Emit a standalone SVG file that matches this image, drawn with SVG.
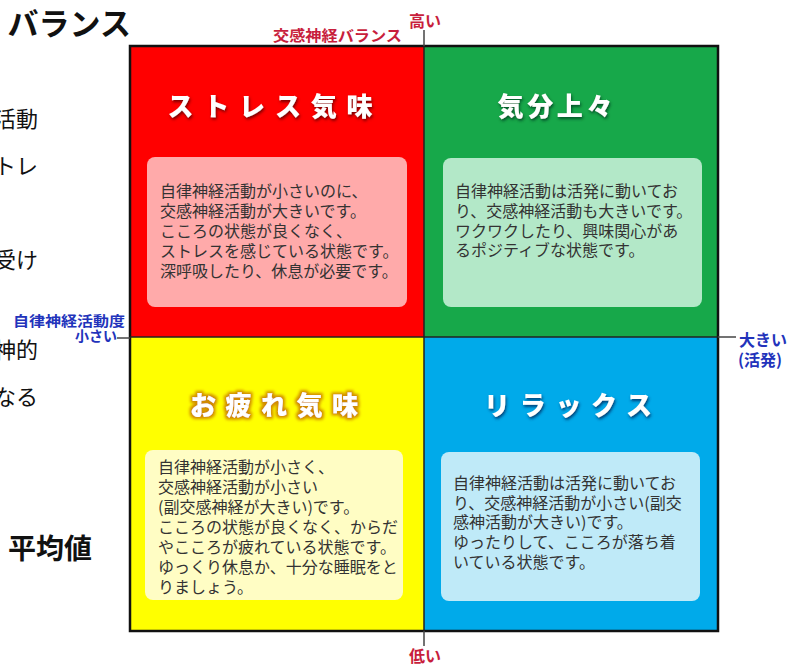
<svg xmlns="http://www.w3.org/2000/svg" width="792" height="664" viewBox="0 0 792 664">
<style>
.bg{font-family:"Noto Sans CJK JP","Noto Sans",sans-serif;fill:#111}
.ttl{font-family:"Noto Sans CJK JP",sans-serif;font-weight:900;font-size:26px;fill:#fff;text-anchor:middle}
.body{font-family:"Noto Sans CJK JP",sans-serif;font-size:16px;fill:#333}
.red{font-family:"Noto Sans CJK JP",sans-serif;font-weight:bold;fill:#c81e3c}
.blue{font-family:"Noto Sans CJK JP",sans-serif;font-weight:bold;fill:#2233bb}
.ax{stroke:#444;stroke-width:1.5;fill:none}
</style>
<defs>
<filter id="shR" x="-10%" y="-30%" width="120%" height="160%"><feDropShadow dx="1" dy="2" stdDeviation="1.5" flood-color="#660000" flood-opacity="0.9"/></filter>
<filter id="shG" x="-10%" y="-30%" width="120%" height="160%"><feDropShadow dx="1" dy="2" stdDeviation="1.5" flood-color="#004422" flood-opacity="0.9"/></filter>
<filter id="shB" x="-10%" y="-30%" width="120%" height="160%"><feDropShadow dx="1" dy="2" stdDeviation="1.5" flood-color="#003366" flood-opacity="0.9"/></filter>
<filter id="shY" x="-10%" y="-30%" width="120%" height="160%">
<feMorphology in="SourceAlpha" operator="dilate" radius="2" result="d"/>
<feGaussianBlur in="d" stdDeviation="1.5" result="b"/>
<feFlood flood-color="#d08a00"/>
<feComposite in2="b" operator="in" result="g"/>
<feMerge><feMergeNode in="g"/><feMergeNode in="SourceGraphic"/></feMerge>
</filter>
</defs>
<rect width="792" height="664" fill="#fff"/>
<g id="background-text" class="bg">
<text x="131" y="35" font-size="31" font-weight="bold" text-anchor="end">バランス</text>
<text x="38" y="127" font-size="22" text-anchor="end">活動</text>
<text x="38" y="174" font-size="22" text-anchor="end">トレ</text>
<text x="38" y="268" font-size="22" text-anchor="end">受け</text>
<text x="38" y="358" font-size="22" text-anchor="end">神的</text>
<text x="38" y="405" font-size="22" text-anchor="end">なる</text>
<text x="92" y="559" font-size="28" font-weight="bold" text-anchor="end">平均値</text>
</g>
<g id="q-stress">
<rect x="130" y="46" width="294" height="291" fill="#ff0000"/>
<text class="ttl" x="270" y="116" textLength="205" lengthAdjust="spacing" filter="url(#shR)">ストレス気味</text>
<rect x="147" y="157" width="260" height="150" rx="8" fill="#ffaaaa"/>
<text class="body" x="160" y="197">自律神経活動が小さいのに、</text>
<text class="body" x="160" y="217">交感神経活動が大きいです。</text>
<text class="body" x="160" y="237">こころの状態が良くなく、</text>
<text class="body" x="160" y="257">ストレスを感じている状態です。</text>
<text class="body" x="160" y="277">深呼吸したり、休息が必要です。</text>
</g>
<g id="q-happy">
<rect x="424" y="46" width="294" height="291" fill="#17a84a"/>
<text class="ttl" x="555" y="116" textLength="115" lengthAdjust="spacing" filter="url(#shG)">気分上々</text>
<rect x="443" y="158" width="259" height="149" rx="8" fill="#b3e8c8"/>
<text class="body" x="455" y="197">自律神経活動は活発に動いてお</text>
<text class="body" x="455" y="217">り、交感神経活動も大きいです。</text>
<text class="body" x="455" y="237">ワクワクしたり、興味関心があ</text>
<text class="body" x="455" y="256">るポジティブな状態です。</text>
</g>
<g id="q-tired">
<rect x="130" y="337" width="294" height="294" fill="#ffff00"/>
<text class="ttl" x="274" y="415" textLength="168" lengthAdjust="spacing" filter="url(#shY)">お疲れ気味</text>
<rect x="145" y="450" width="258" height="150" rx="8" fill="#fffdc4"/>
<text class="body" x="158" y="473">自律神経活動が小さく、</text>
<text class="body" x="158" y="493">交感神経活動が小さい</text>
<text class="body" x="158" y="513">(副交感神経が大きい)です。</text>
<text class="body" x="158" y="533">こころの状態が良くなく、からだ</text>
<text class="body" x="158" y="553">やこころが疲れている状態です。</text>
<text class="body" x="158" y="573">ゆっくり休息か、十分な睡眠をと</text>
<text class="body" x="158" y="593">りましょう。</text>
</g>
<g id="q-relax">
<rect x="424" y="337" width="294" height="294" fill="#00aaea"/>
<text class="ttl" x="568" y="415" textLength="168" lengthAdjust="spacing" filter="url(#shB)">リラックス</text>
<rect x="441" y="452" width="259" height="149" rx="8" fill="#bfeaf8"/>
<text class="body" x="453" y="489">自律神経活動は活発に動いてお</text>
<text class="body" x="453" y="509">り、交感神経活動が小さい(副交</text>
<text class="body" x="453" y="528">感神活動が大きい)です。</text>
<text class="body" x="453" y="548">ゆったりして、こころが落ち着</text>
<text class="body" x="453" y="568">いている状態です。</text>
</g>
<g id="connectors">
<rect x="130" y="46" width="588" height="585" fill="none" stroke="#111" stroke-width="2.5"/>
<line x1="424" y1="46" x2="424" y2="631" stroke="#222" stroke-width="1.5"/>
<line x1="130" y1="337" x2="718" y2="337" stroke="#222" stroke-width="1.5"/>
<line class="ax" x1="424" y1="30" x2="424" y2="46"/>
<line class="ax" x1="424" y1="631" x2="424" y2="646"/>
<line class="ax" x1="117" y1="338" x2="130" y2="338"/>
<line class="ax" x1="718" y1="337" x2="736" y2="337"/>
</g>
<g id="axis-labels">
<text class="red" x="425" y="27" font-size="16" text-anchor="middle">高い</text>
<text class="red" x="273" y="41" font-size="15" textLength="129" lengthAdjust="spacingAndGlyphs">交感神経バランス</text>
<text class="red" x="425" y="662" font-size="16" text-anchor="middle">低い</text>
<text class="blue" x="13" y="326" font-size="14" textLength="112" lengthAdjust="spacingAndGlyphs">自律神経活動度</text>
<text class="blue" x="117" y="341" font-size="14" text-anchor="end">小さい</text>
<text class="blue" x="739" y="346" font-size="16">大きい</text>
<text class="blue" x="738" y="366" font-size="16">(活発)</text>
</g>
</svg>
